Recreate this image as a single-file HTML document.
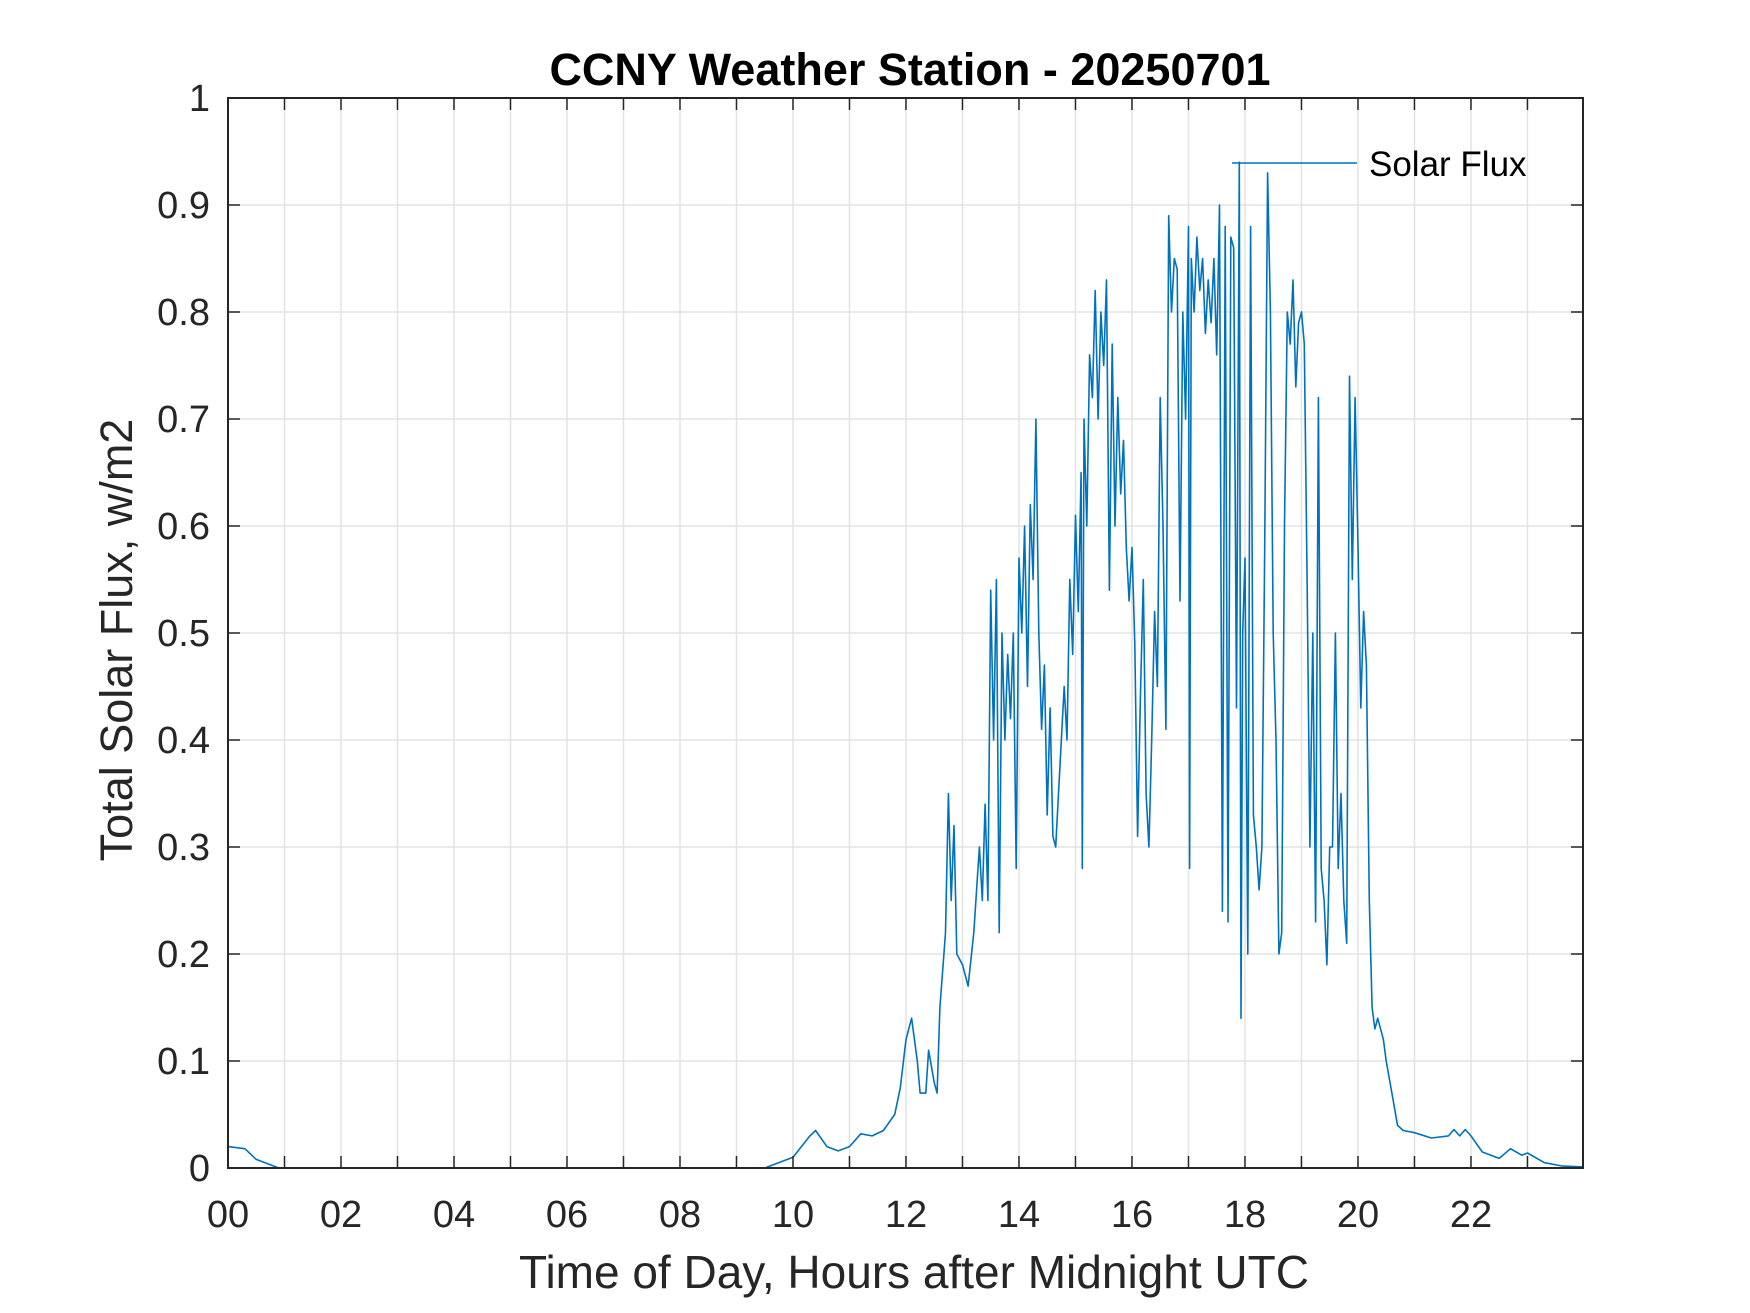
<!DOCTYPE html>
<html><head><meta charset="utf-8"><style>
html,body{margin:0;padding:0;background:#fff;}
svg{display:block;font-family:"Liberation Sans",Arial,sans-serif;}
</style></head><body>
<svg id="chart" width="1750" height="1313" viewBox="0 0 1750 1313" xmlns="http://www.w3.org/2000/svg">
<rect width="1750" height="1313" fill="#fff"/>
<g id="grid"></g>
<g id="series"></g>
<g id="axes"></g>
<text x="910" y="85" text-anchor="middle" font-size="45" font-weight="bold" fill="#000">CCNY Weather Station - 20250701</text>
<text x="914" y="1288" text-anchor="middle" font-size="46" fill="#262626">Time of Day, Hours after Midnight UTC</text>
<text transform="translate(132,640) rotate(-90)" text-anchor="middle" font-size="45" fill="#262626">Total Solar Flux, w/m2</text>
<g>
<line x1="1232" y1="163" x2="1357" y2="163" stroke="#0072BD" stroke-width="1.6"/>
<text x="1369" y="176" font-size="35" fill="#000">Solar Flux</text>
</g>
</svg>
<script>
const hours=[0,0.3,0.5,0.9,2,4,6,8,9.5,10.0,10.3,10.4,10.6,10.8,11.0,11.2,11.4,11.6,11.8,11.9,12.0,12.1,12.2,12.25,12.35,12.4,12.5,12.55,12.6,12.7,12.75,12.8,12.85,12.9,13.0,13.1,13.2,13.3,13.35,13.4,13.45,13.5,13.55,13.6,13.65,13.7,13.75,13.8,13.85,13.9,13.95,14.0,14.05,14.1,14.15,14.2,14.25,14.3,14.35,14.4,14.45,14.5,14.55,14.6,14.65,14.7,14.8,14.85,14.9,14.95,15.0,15.05,15.1,15.12,15.15,15.2,15.25,15.3,15.35,15.4,15.45,15.5,15.55,15.6,15.65,15.7,15.75,15.8,15.85,15.9,15.95,16.0,16.05,16.1,16.15,16.2,16.25,16.3,16.35,16.4,16.45,16.5,16.55,16.6,16.65,16.7,16.75,16.8,16.85,16.9,16.95,17.0,17.02,17.05,17.1,17.15,17.2,17.25,17.3,17.35,17.4,17.45,17.5,17.55,17.6,17.65,17.7,17.75,17.8,17.85,17.9,17.93,17.96,18.0,18.05,18.1,18.15,18.2,18.25,18.3,18.35,18.4,18.45,18.5,18.55,18.6,18.65,18.7,18.75,18.8,18.85,18.9,18.95,19.0,19.05,19.1,19.15,19.2,19.25,19.3,19.35,19.4,19.45,19.5,19.55,19.6,19.65,19.7,19.75,19.8,19.85,19.9,19.95,20.0,20.05,20.1,20.15,20.2,20.25,20.3,20.35,20.45,20.5,20.6,20.7,20.8,21.0,21.3,21.6,21.7,21.8,21.9,22.0,22.2,22.5,22.7,22.9,23.0,23.3,23.6,23.98];
const flux=[0.02,0.018,0.008,0,0,0,0,0,0,0.01,0.03,0.035,0.02,0.016,0.02,0.032,0.03,0.035,0.05,0.075,0.12,0.14,0.1,0.07,0.07,0.11,0.08,0.07,0.15,0.22,0.35,0.25,0.32,0.2,0.19,0.17,0.22,0.3,0.25,0.34,0.25,0.54,0.4,0.55,0.22,0.5,0.4,0.48,0.42,0.5,0.28,0.57,0.5,0.6,0.45,0.62,0.55,0.7,0.5,0.41,0.47,0.33,0.43,0.31,0.3,0.35,0.45,0.4,0.55,0.48,0.61,0.52,0.65,0.28,0.7,0.6,0.76,0.72,0.82,0.7,0.8,0.75,0.83,0.54,0.77,0.6,0.72,0.63,0.68,0.58,0.53,0.58,0.49,0.31,0.44,0.55,0.35,0.3,0.4,0.52,0.45,0.72,0.6,0.41,0.89,0.8,0.85,0.84,0.53,0.8,0.7,0.88,0.28,0.85,0.8,0.87,0.82,0.85,0.78,0.83,0.79,0.85,0.76,0.9,0.24,0.88,0.23,0.87,0.86,0.43,0.94,0.14,0.5,0.57,0.2,0.88,0.33,0.3,0.26,0.3,0.58,0.93,0.8,0.5,0.4,0.2,0.22,0.6,0.8,0.77,0.83,0.73,0.79,0.8,0.77,0.55,0.3,0.5,0.23,0.72,0.28,0.25,0.19,0.3,0.3,0.5,0.28,0.35,0.25,0.21,0.74,0.55,0.72,0.58,0.43,0.52,0.47,0.25,0.15,0.13,0.14,0.12,0.1,0.07,0.04,0.035,0.033,0.028,0.03,0.036,0.03,0.036,0.03,0.015,0.009,0.018,0.012,0.014,0.005,0.002,0.001];
const yTicks=[0,0.1,0.2,0.3,0.4,0.5,0.6,0.7,0.8,0.9,1];
const yTickLabels=["0","0.1","0.2","0.3","0.4","0.5","0.6","0.7","0.8","0.9","1"];
const xTicks=[0,1,2,3,4,5,6,7,8,9,10,11,12,13,14,15,16,17,18,19,20,21,22,23];
const xTickLabels=["00","","02","","04","","06","","08","","10","","12","","14","","16","","18","","20","","22",""];

const L=228,R=1583,T=98,B=1168,XMAX=23.983;
const xs=h=>L+(R-L)*h/XMAX, ys=v=>B-(B-T)*v;
const NS="http://www.w3.org/2000/svg";
function mk(tag,attrs,parent){const e=document.createElementNS(NS,tag);for(const k in attrs)e.setAttribute(k,attrs[k]);parent.appendChild(e);return e;}
const grid=document.getElementById('grid'),axes=document.getElementById('axes'),series=document.getElementById('series');
xTicks.forEach((h,i)=>{
  const x=xs(h);
  if(h>0){const g=mk('line',{x1:x,y1:T,x2:x,y2:B,stroke:'#e3e3e3','stroke-width':1.5},grid);
  
  }
  const t1=mk('line',{x1:x,y1:B,x2:x,y2:B-12,stroke:'#262626','stroke-width':1.5},axes);
  
  
  const t2=mk('line',{x1:x,y1:T,x2:x,y2:T+12,stroke:'#262626','stroke-width':1.5},axes);
  
  
  if(xTickLabels[i]){const tx=mk('text',{x:x,y:1227,'text-anchor':'middle','font-size':38,fill:'#262626'},axes);tx.textContent=xTickLabels[i];
  
  }
});
yTicks.forEach((v,i)=>{
  const y=ys(v);
  if(v>0&&v<1){const g=mk('line',{x1:L,y1:y,x2:R,y2:y,stroke:'#e3e3e3','stroke-width':1.5},grid);
  
  }
  const t1=mk('line',{x1:L,y1:y,x2:L+12,y2:y,stroke:'#262626','stroke-width':1.5},axes);
  
  
  const t2=mk('line',{x1:R,y1:y,x2:R-12,y2:y,stroke:'#262626','stroke-width':1.5},axes);
  
  
  const tx=mk('text',{x:210,y:y+13,'text-anchor':'end','font-size':38,fill:'#262626'},axes);tx.textContent=yTickLabels[i];
  
  
});
const box=mk('rect',{x:L,y:T,width:R-L,height:B-T,fill:'none',stroke:'#262626','stroke-width':2},axes);


const pts=hours.map((h,i)=>xs(h).toFixed(1)+','+ys(flux[i]).toFixed(1)).join(' ');
const line=mk('polyline',{points:pts,fill:'none',stroke:'#0072BD','stroke-width':1.6,'stroke-linejoin':'round'},series);


</script>
</body></html>
